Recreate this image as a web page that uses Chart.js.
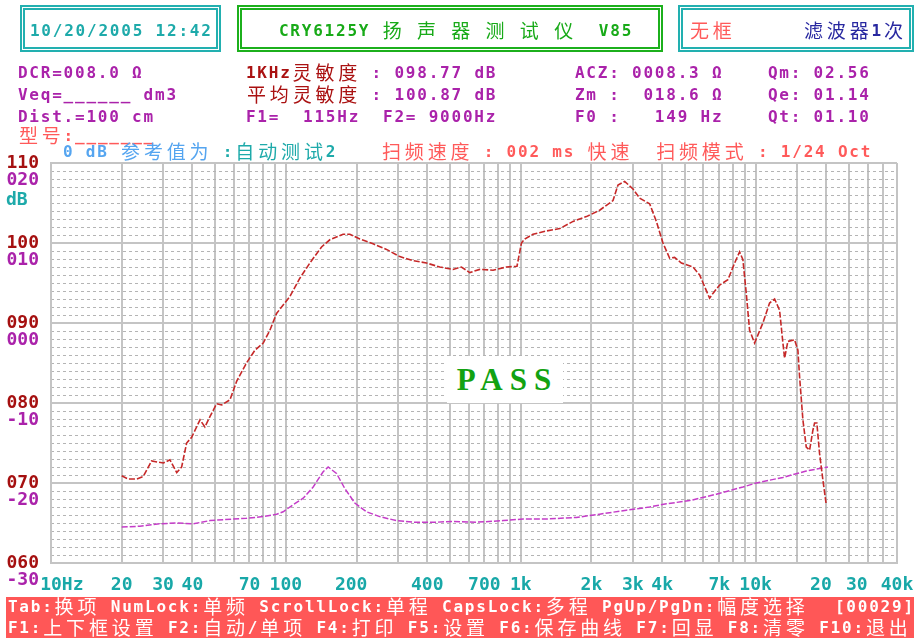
<!DOCTYPE html>
<html>
<head>
<meta charset="utf-8">
<script src="https://cdn.jsdelivr.net/npm/chart.js@4/dist/chart.umd.min.js"></script>
<style>
  body { margin: 0; background: #fff; width: 914px; height: 638px; overflow: hidden; position: relative; }
  #plot { position: absolute; left: 0; top: 0; }
  .box { position: absolute; box-sizing: border-box; border: 5px double #22b0b0; top: 5px; height: 47px; }
  .row { position: absolute; white-space: nowrap; height: 24px; line-height: 24px; }
  .c { display: inline-block; vertical-align: top; line-height: 24px; width: 11.43px; text-align: center;
       font: bold 16px "DejaVu Sans Mono", monospace; position: relative; top: 3px; }
  .w { display: inline-block; vertical-align: top; line-height: 24px; width: 22.86px; text-align: center;
       font: 19px "Noto Sans CJK SC", sans-serif; position: relative; top: -2px; }
  #bar { position: absolute; left: 6px; top: 597px; width: 908px; height: 41px; background: #ff5757; }
  #pass { position: absolute; left: 447px; top: 356px; width: 116px; height: 47px; background: #fff;
          font: bold 31px "Liberation Serif", serif; color: #12a212; letter-spacing: 7px;
          text-align: center; line-height: 47px; text-indent: 5px; }
</style>
</head>
<body>
<canvas id="plot" width="914" height="638"></canvas>
<div class="box" style="left:20px;width:201px"></div>
<div class="box" style="left:237px;width:426px;border-color:#1cb01c"></div>
<div class="box" style="left:678px;width:236px"></div>
<div id="bar"></div>
<div id="pass">PASS</div>
<script>
// 声压曲线 (红)  频率 Hz / dB
const splFreq = [20, 21.3, 23.2, 24.7, 26.8, 30.1, 32.1, 34.3, 36, 37.8, 39.7, 43.1, 45.2, 47.5, 50.7, 53.3, 57.8, 61.7, 68, 73.8,
  80.1, 85.5, 91.3, 99, 104, 114.7, 126.5, 141.9, 153.9, 175.3, 187.2, 206.5, 235.2, 268.2, 305.5, 348, 396.9, 452, 515, 559,
  606.7, 669, 762, 869, 964, 1007, 1040, 1128, 1286, 1466, 1670, 1904, 2168, 2471, 2595, 2771, 3006, 3209, 3540, 3780,
  4033, 4305, 4520, 4830, 5410, 5778, 6370, 6580, 7030, 7620, 8144, 8550, 8830, 9127, 9427, 9900, 10740, 11470, 12050, 12650,
  13070, 13290, 13720, 14660, 15140, 15390, 15900, 16430, 16980, 17540, 17830, 18230, 18720, 19340, 20000];
const splDb = [70.9, 70.5, 70.5, 70.8, 72.75, 72.5, 72.9, 71.3, 72.0, 75.0, 75.7, 77.9, 77.0, 78.3, 79.9, 79.75, 80.4, 82.7, 85.0, 86.6,
  87.5, 89.1, 91.2, 92.5, 93.3, 95.6, 97.5, 99.5, 100.4, 101.1, 101.1, 100.5, 99.9, 99.2, 98.3, 97.8, 97.5, 97.0, 96.7, 97.0,
  96.3, 96.7, 96.6, 97.0, 97.1, 100.0, 100.5, 101.1, 101.5, 101.8, 102.7, 103.3, 104.1, 105.3, 107.25, 107.7, 106.75, 105.6, 104.9, 102.7,
  100.0, 98.1, 98.2, 97.5, 97.0, 96.0, 93.1, 93.7, 94.75, 95.4, 97.5, 98.9, 97.9, 93.7, 89.1, 87.5, 90.0, 92.5, 93.0, 91.6,
  87.5, 85.6, 87.7, 87.9, 86.6, 83.3, 77.9, 74.5, 74.1, 76.6, 77.5, 77.5, 73.7, 70.4, 67.25];

// 阻抗曲线 (紫)  参考刻度 -30..20
const impFreq = [20, 23.9, 29.1, 34.3, 40.3, 47.5, 59.7, 68, 80.1, 91.3, 97.4, 104, 118.5, 130.7, 144.1, 151.4, 164.3, 178.3, 196.6, 220.5,
  251, 295.8, 348, 437.7, 515, 648, 841, 1023, 1286, 1726, 2168, 2816, 3540, 4169, 5236, 6805, 8830, 10070, 13070, 16430, 20320];
const impDb = [-25.5, -25.4, -25.1, -25.0, -25.1, -24.7, -24.5, -24.4, -24.2, -23.9, -23.6, -23.0, -21.9, -20.5, -18.6, -18.0, -18.8, -20.7, -22.5, -23.6,
  -24.2, -24.7, -24.9, -24.9, -24.8, -24.9, -24.7, -24.5, -24.5, -24.3, -23.9, -23.4, -23.0, -22.6, -22.2, -21.4, -20.5, -20.0, -19.3, -18.5, -18.0];

// 坐标刻度
const gridFreqs = [10, 20, 30, 40, 50, 60, 70, 80, 90, 100, 200, 300, 400, 500, 600, 700, 800, 900, 1000,
  2000, 3000, 4000, 5000, 6000, 7000, 8000, 9000, 10000, 15000, 20000, 25000, 30000, 35000, 40000];
const labelFreqs = [10, 20, 30, 40, 70, 100, 200, 400, 700, 1000, 2000, 3000, 4000, 7000, 10000, 20000, 30000, 40000];
const labelTexts = ['  10Hz', '20', '30', '40', '70', '100', '200 ', '400', '700', '1k', '2k', '3k', '4k', '7k', '10k', '20 ', '30  ', '40k'];
const refTicks = [20, 10, 0, -10, -20, -30];

// 文字 (按字符格子排版)
function put(x, y, parts) {
  const row = document.createElement('div');
  row.className = 'row';
  row.style.left = x + 'px';
  row.style.top = (y - 12) + 'px';
  parts.forEach(([t, col]) => {
    for (const ch of t) {
      const s = document.createElement('span');
      s.className = /[\u3000-\u9fff\uff00-\uffef]/.test(ch) ? 'w' : 'c';
      s.textContent = ch;
      s.style.color = col;
      row.appendChild(s);
    }
  });
  document.body.appendChild(row);
}
const PUR = '#aa22aa', DRED = '#aa1111', SAL = '#ff5a5a', TEAL = '#1eaaaa', WH = '#ffffff';
put(29, 30, [['10/20/2005 12:42', TEAL]]);
put(278, 30, [['CRY6125Y 扬 声 器 测 试 仪  V85', '#18aa18']]);
put(688, 30, [['无框', SAL]]);
put(802, 30, [['滤波器1次', '#2828a0']]);
put(17, 72, [['DCR=008.0 Ω', PUR]]);
put(17, 94, [['Veq=______ dm3', PUR]]);
put(17, 116, [['Dist.=100 cm', PUR]]);
put(245, 72, [['1KHz灵敏度', DRED], [' : 098.77 dB', PUR]]);
put(245, 94, [['平均灵敏度', DRED], [' : 100.87 dB', PUR]]);
put(245, 116, [['F1=  115Hz  F2= 9000Hz', PUR]]);
put(574, 72, [['ACZ: 0008.3 Ω', PUR]]);
put(574, 94, [['Zm :  018.6 Ω', PUR]]);
put(574, 116, [['F0 :   149 Hz', PUR]]);
put(767, 72, [['Qm: 02.56', PUR]]);
put(767, 94, [['Qe: 01.14', PUR]]);
put(767, 116, [['Qt: 01.10', PUR]]);
put(17, 135, [['型号:_______', SAL]]);
put(62, 151, [['0 dB 参考值为', '#55a5f0'], [' :自动测试2', TEAL]]);
put(380, 151, [['扫频速度 : 002 ms 快速  扫频模式 : 1/24 Oct', SAL]]);
put(7, 606, [['Tab:换项 NumLock:单频 ScrollLock:单程 CapsLock:多程 PgUp/PgDn:幅度选择', WH]]);
put(834, 606, [['[00029]', WH]]);
put(7, 627, [['F1:上下框设置 F2:自动/单项 F4:打印 F5:设置 F6:保存曲线 F7:回显 F8:清零 F10:退出', WH]]);

// 左侧第二行刻度 (紫) 与 dB
const sideLabels = {
  id: 'sideLabels',
  afterDraw(chart) {
    const { ctx } = chart;
    const s = chart.scales.yImp;
    ctx.save();
    ctx.font = 'bold 18px "DejaVu Sans Mono"';
    ctx.textAlign = 'right';
    ctx.textBaseline = 'middle';
    ctx.fillStyle = '#aa22aa';
    refTicks.forEach(v => {
      const t = v < 0 ? String(v) : String(v).padStart(3, '0');
      ctx.fillText(t, 39, s.getPixelForValue(v) + 17);
    });
    ctx.fillStyle = '#1eaaaa';
    ctx.textAlign = 'left';
    ctx.fillText('dB', 6, 200);
    ctx.restore();
  }
};

const tickFont = { family: 'DejaVu Sans Mono', size: 18, weight: 'bold' };
const GRID = '#c4c4c4';

new Chart(document.getElementById('plot'), {
  type: 'line',
  data: {
    datasets: [
      {
        data: splFreq.map((f, i) => ({ x: f, y: splDb[i] })),
        yAxisID: 'y',
        borderColor: '#c62828',
        borderWidth: 1.6,
        borderDash: [6, 2],
        pointRadius: 0,
        tension: 0
      },
      {
        data: impFreq.map((f, i) => ({ x: f, y: impDb[i] })),
        yAxisID: 'yImp',
        borderColor: '#c43cc8',
        borderWidth: 1.5,
        borderDash: [6, 2],
        pointRadius: 0,
        tension: 0
      }
    ]
  },
  options: {
    responsive: false,
    animation: false,
    events: [],
    layout: { padding: { top: 163, right: 17, bottom: 45, left: 0 } },
    plugins: { legend: { display: false }, tooltip: { enabled: false } },
    scales: {
      x: {
        type: 'logarithmic',
        min: 10,
        max: 40000,
        afterBuildTicks: s => { s.ticks = gridFreqs.map(v => ({ value: v })); },
        afterFit: s => { s.height = 30; s.paddingLeft = 0; s.paddingRight = 0; },
        ticks: {
          autoSkip: false, maxRotation: 0, minRotation: 0, padding: 12,
          color: '#18a8a8', font: tickFont,
          callback: v => { const i = labelFreqs.indexOf(v); return i < 0 ? '' : labelTexts[i]; }
        },
        grid: { color: GRID, lineWidth: 2, drawTicks: false },
        border: { color: GRID, width: 2 }
      },
      y: {
        position: 'left',
        min: 60,
        max: 110,
        afterFit: s => { s.width = 51; },
        ticks: {
          stepSize: 10, padding: 12, color: '#a51010', font: tickFont,
          callback: v => String(v).padStart(3, '0')
        },
        grid: { color: GRID, lineWidth: 2, drawTicks: false },
        border: { color: GRID, width: 2 }
      },
      yMinor: {
        position: 'left',
        min: 60,
        max: 110,
        afterBuildTicks: s => {
          const t = [];
          for (let v = 60; v <= 110; v++) t.push({ value: v });
          s.ticks = t;
        },
        afterFit: s => { s.width = 0; },
        ticks: { display: false },
        grid: {
          color: c => (c.tick && c.tick.value % 10 === 0) ? 'rgba(0,0,0,0)' : '#b4b4b4',
          lineWidth: 1,
          drawTicks: false
        },
        border: { display: false, dash: [3, 3] }
      },
      yImp: { display: false, min: -30, max: 20 }
    }
  },
  plugins: [sideLabels]
});
</script>
</body>
</html>
